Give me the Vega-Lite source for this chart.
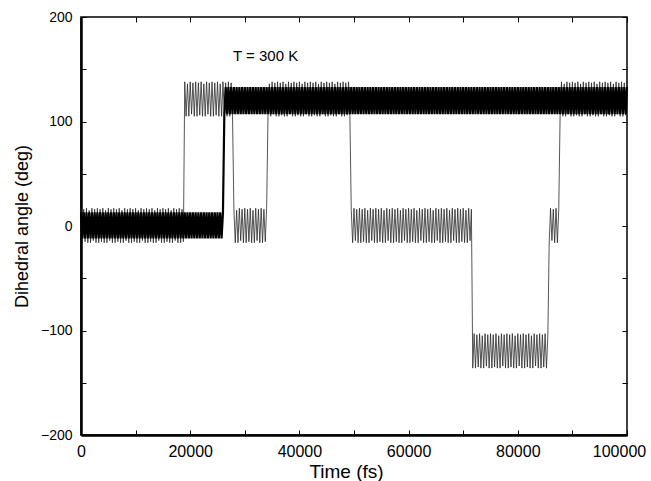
{
"$schema": "https://vega.github.io/schema/vega-lite/v6.json",
"width": 546,
"height": 418,
"autosize": {"type": "none"},
"padding": {"left": 81, "top": 17, "right": 24, "bottom": 46},
"background": "white",
"config": {
  "font": "Liberation Sans",
  "view": {"stroke": "black", "strokeWidth": 1.5},
  "axis": {"labelFont": "Liberation Sans", "titleFont": "Liberation Sans", "labelColor": "black", "titleColor": "black", "tickColor": "black", "domainColor": "black", "grid": false, "titleFontWeight": "normal"}
},
"data": {"values": [
{"t":0,"a":13,"b":17},{"t":250,"a":-12,"b":-16},{"t":500,"a":13,"b":16},{"t":750,"a":-12,"b":-15},{"t":1000,"a":13,"b":17},{"t":1250,"a":-12,"b":-16},{"t":1500,"a":13,"b":15},{"t":1750,"a":-12,"b":-16},{"t":2000,"a":13,"b":17},{"t":2250,"a":-12,"b":-14},{"t":2500,"a":13,"b":16},{"t":2750,"a":-12,"b":-16},
{"t":3000,"a":13,"b":17},{"t":3250,"a":-12,"b":-16},{"t":3500,"a":13,"b":16},{"t":3750,"a":-12,"b":-15},{"t":4000,"a":13,"b":17},{"t":4250,"a":-12,"b":-16},{"t":4500,"a":13,"b":15},{"t":4750,"a":-12,"b":-16},{"t":5000,"a":13,"b":17},{"t":5250,"a":-12,"b":-14},{"t":5500,"a":13,"b":16},{"t":5750,"a":-12,"b":-16},
{"t":6000,"a":13,"b":17},{"t":6250,"a":-12,"b":-16},{"t":6500,"a":13,"b":16},{"t":6750,"a":-12,"b":-15},{"t":7000,"a":13,"b":17},{"t":7250,"a":-12,"b":-16},{"t":7500,"a":13,"b":15},{"t":7750,"a":-12,"b":-16},{"t":8000,"a":13,"b":17},{"t":8250,"a":-12,"b":-14},{"t":8500,"a":13,"b":16},{"t":8750,"a":-12,"b":-16},
{"t":9000,"a":13,"b":17},{"t":9250,"a":-12,"b":-16},{"t":9500,"a":13,"b":16},{"t":9750,"a":-12,"b":-15},{"t":10000,"a":13,"b":17},{"t":10250,"a":-12,"b":-16},{"t":10500,"a":13,"b":15},{"t":10750,"a":-12,"b":-16},{"t":11000,"a":13,"b":17},{"t":11250,"a":-12,"b":-14},{"t":11500,"a":13,"b":16},{"t":11750,"a":-12,"b":-16},
{"t":12000,"a":13,"b":17},{"t":12250,"a":-12,"b":-16},{"t":12500,"a":13,"b":16},{"t":12750,"a":-12,"b":-15},{"t":13000,"a":13,"b":17},{"t":13250,"a":-12,"b":-16},{"t":13500,"a":13,"b":15},{"t":13750,"a":-12,"b":-16},{"t":14000,"a":13,"b":17},{"t":14250,"a":-12,"b":-14},{"t":14500,"a":13,"b":16},{"t":14750,"a":-12,"b":-16},
{"t":15000,"a":13,"b":17},{"t":15250,"a":-12,"b":-16},{"t":15500,"a":13,"b":16},{"t":15750,"a":-12,"b":-15},{"t":16000,"a":13,"b":17},{"t":16250,"a":-12,"b":-16},{"t":16500,"a":13,"b":15},{"t":16750,"a":-12,"b":-16},{"t":17000,"a":13,"b":17},{"t":17250,"a":-12,"b":-14},{"t":17500,"a":13,"b":16},{"t":17750,"a":-12,"b":-16},
{"t":18000,"a":13,"b":17},{"t":18250,"a":-12,"b":-16},{"t":18500,"a":13,"b":16},{"t":18750,"a":-12,"b":-15},
{"t":19000,"a":13,"b":138},{"t":19250,"a":-12,"b":105},{"t":19500,"a":13,"b":136},{"t":19750,"a":-12,"b":105},{"t":20000,"a":13,"b":138},{"t":20250,"a":-12,"b":107},{"t":20500,"a":13,"b":137},{"t":20750,"a":-12,"b":105},
{"t":21000,"a":13,"b":138},{"t":21250,"a":-12,"b":105},{"t":21500,"a":13,"b":137},{"t":21750,"a":-12,"b":106},{"t":22000,"a":13,"b":138},{"t":22250,"a":-12,"b":105},{"t":22500,"a":13,"b":136},{"t":22750,"a":-12,"b":105},{"t":23000,"a":13,"b":138},{"t":23250,"a":-12,"b":107},{"t":23500,"a":13,"b":137},{"t":23750,"a":-12,"b":105},
{"t":24000,"a":13,"b":138},{"t":24250,"a":-12,"b":105},{"t":24500,"a":13,"b":137},{"t":24750,"a":-12,"b":106},{"t":25000,"a":13,"b":138},{"t":25250,"a":-12,"b":105},{"t":25500,"a":13,"b":136},{"t":25750,"a":-12,"b":105},{"t":26000,"a":13,"b":138},{"t":26250,"a":107,"b":107},{"t":26500,"a":133,"b":137},{"t":26750,"a":107,"b":105},
{"t":27000,"a":133,"b":138},{"t":27250,"a":107,"b":105},{"t":27500,"a":133,"b":137},{"t":27750,"a":107,"b":106},
{"t":28000,"a":133,"b":17},{"t":28250,"a":107,"b":-16},{"t":28500,"a":133,"b":15},{"t":28750,"a":107,"b":-16},{"t":29000,"a":133,"b":17},{"t":29250,"a":107,"b":-14},{"t":29500,"a":133,"b":16},{"t":29750,"a":107,"b":-16},
{"t":30000,"a":133,"b":17},{"t":30250,"a":107,"b":-16},{"t":30500,"a":133,"b":16},{"t":30750,"a":107,"b":-15},{"t":31000,"a":133,"b":17},{"t":31250,"a":107,"b":-16},{"t":31500,"a":133,"b":15},{"t":31750,"a":107,"b":-16},{"t":32000,"a":133,"b":17},{"t":32250,"a":107,"b":-14},{"t":32500,"a":133,"b":16},{"t":32750,"a":107,"b":-16},
{"t":33000,"a":133,"b":17},{"t":33250,"a":107,"b":-16},{"t":33500,"a":133,"b":16},{"t":33750,"a":107,"b":-15},{"t":34000,"a":133,"b":17},
{"t":34250,"a":107,"b":105},{"t":34500,"a":133,"b":136},{"t":34750,"a":107,"b":105},{"t":35000,"a":133,"b":138},{"t":35250,"a":107,"b":107},{"t":35500,"a":133,"b":137},{"t":35750,"a":107,"b":105},
{"t":36000,"a":133,"b":138},{"t":36250,"a":107,"b":105},{"t":36500,"a":133,"b":137},{"t":36750,"a":107,"b":106},{"t":37000,"a":133,"b":138},{"t":37250,"a":107,"b":105},{"t":37500,"a":133,"b":136},{"t":37750,"a":107,"b":105},{"t":38000,"a":133,"b":138},{"t":38250,"a":107,"b":107},{"t":38500,"a":133,"b":137},{"t":38750,"a":107,"b":105},
{"t":39000,"a":133,"b":138},{"t":39250,"a":107,"b":105},{"t":39500,"a":133,"b":137},{"t":39750,"a":107,"b":106},{"t":40000,"a":133,"b":138},{"t":40250,"a":107,"b":105},{"t":40500,"a":133,"b":136},{"t":40750,"a":107,"b":105},{"t":41000,"a":133,"b":138},{"t":41250,"a":107,"b":107},{"t":41500,"a":133,"b":137},{"t":41750,"a":107,"b":105},
{"t":42000,"a":133,"b":138},{"t":42250,"a":107,"b":105},{"t":42500,"a":133,"b":137},{"t":42750,"a":107,"b":106},{"t":43000,"a":133,"b":138},{"t":43250,"a":107,"b":105},{"t":43500,"a":133,"b":136},{"t":43750,"a":107,"b":105},{"t":44000,"a":133,"b":138},{"t":44250,"a":107,"b":107},{"t":44500,"a":133,"b":137},{"t":44750,"a":107,"b":105},
{"t":45000,"a":133,"b":138},{"t":45250,"a":107,"b":105},{"t":45500,"a":133,"b":137},{"t":45750,"a":107,"b":106},{"t":46000,"a":133,"b":138},{"t":46250,"a":107,"b":105},{"t":46500,"a":133,"b":136},{"t":46750,"a":107,"b":105},{"t":47000,"a":133,"b":138},{"t":47250,"a":107,"b":107},{"t":47500,"a":133,"b":137},{"t":47750,"a":107,"b":105},
{"t":48000,"a":133,"b":138},{"t":48250,"a":107,"b":105},{"t":48500,"a":133,"b":137},{"t":48750,"a":107,"b":106},{"t":49000,"a":133,"b":138},{"t":49250,"a":107,"b":105},
{"t":49500,"a":133,"b":15},{"t":49750,"a":107,"b":-16},{"t":50000,"a":133,"b":17},{"t":50250,"a":107,"b":-14},{"t":50500,"a":133,"b":16},{"t":50750,"a":107,"b":-16},
{"t":51000,"a":133,"b":17},{"t":51250,"a":107,"b":-16},{"t":51500,"a":133,"b":16},{"t":51750,"a":107,"b":-15},{"t":52000,"a":133,"b":17},{"t":52250,"a":107,"b":-16},{"t":52500,"a":133,"b":15},{"t":52750,"a":107,"b":-16},{"t":53000,"a":133,"b":17},{"t":53250,"a":107,"b":-14},{"t":53500,"a":133,"b":16},{"t":53750,"a":107,"b":-16},
{"t":54000,"a":133,"b":17},{"t":54250,"a":107,"b":-16},{"t":54500,"a":133,"b":16},{"t":54750,"a":107,"b":-15},{"t":55000,"a":133,"b":17},{"t":55250,"a":107,"b":-16},{"t":55500,"a":133,"b":15},{"t":55750,"a":107,"b":-16},{"t":56000,"a":133,"b":17},{"t":56250,"a":107,"b":-14},{"t":56500,"a":133,"b":16},{"t":56750,"a":107,"b":-16},
{"t":57000,"a":133,"b":17},{"t":57250,"a":107,"b":-16},{"t":57500,"a":133,"b":16},{"t":57750,"a":107,"b":-15},{"t":58000,"a":133,"b":17},{"t":58250,"a":107,"b":-16},{"t":58500,"a":133,"b":15},{"t":58750,"a":107,"b":-16},{"t":59000,"a":133,"b":17},{"t":59250,"a":107,"b":-14},{"t":59500,"a":133,"b":16},{"t":59750,"a":107,"b":-16},
{"t":60000,"a":133,"b":17},{"t":60250,"a":107,"b":-16},{"t":60500,"a":133,"b":16},{"t":60750,"a":107,"b":-15},{"t":61000,"a":133,"b":17},{"t":61250,"a":107,"b":-16},{"t":61500,"a":133,"b":15},{"t":61750,"a":107,"b":-16},{"t":62000,"a":133,"b":17},{"t":62250,"a":107,"b":-14},{"t":62500,"a":133,"b":16},{"t":62750,"a":107,"b":-16},
{"t":63000,"a":133,"b":17},{"t":63250,"a":107,"b":-16},{"t":63500,"a":133,"b":16},{"t":63750,"a":107,"b":-15},{"t":64000,"a":133,"b":17},{"t":64250,"a":107,"b":-16},{"t":64500,"a":133,"b":15},{"t":64750,"a":107,"b":-16},{"t":65000,"a":133,"b":17},{"t":65250,"a":107,"b":-14},{"t":65500,"a":133,"b":16},{"t":65750,"a":107,"b":-16},
{"t":66000,"a":133,"b":17},{"t":66250,"a":107,"b":-16},{"t":66500,"a":133,"b":16},{"t":66750,"a":107,"b":-15},{"t":67000,"a":133,"b":17},{"t":67250,"a":107,"b":-16},{"t":67500,"a":133,"b":15},{"t":67750,"a":107,"b":-16},{"t":68000,"a":133,"b":17},{"t":68250,"a":107,"b":-14},{"t":68500,"a":133,"b":16},{"t":68750,"a":107,"b":-16},
{"t":69000,"a":133,"b":17},{"t":69250,"a":107,"b":-16},{"t":69500,"a":133,"b":16},{"t":69750,"a":107,"b":-15},{"t":70000,"a":133,"b":17},{"t":70250,"a":107,"b":-16},{"t":70500,"a":133,"b":15},{"t":70750,"a":107,"b":-16},{"t":71000,"a":133,"b":17},{"t":71250,"a":107,"b":-14},{"t":71500,"a":133,"b":16},
{"t":71750,"a":107,"b":-136},
{"t":72000,"a":133,"b":-103},{"t":72250,"a":107,"b":-136},{"t":72500,"a":133,"b":-104},{"t":72750,"a":107,"b":-135},{"t":73000,"a":133,"b":-103},{"t":73250,"a":107,"b":-136},{"t":73500,"a":133,"b":-105},{"t":73750,"a":107,"b":-136},{"t":74000,"a":133,"b":-103},{"t":74250,"a":107,"b":-134},{"t":74500,"a":133,"b":-104},{"t":74750,"a":107,"b":-136},
{"t":75000,"a":133,"b":-103},{"t":75250,"a":107,"b":-136},{"t":75500,"a":133,"b":-104},{"t":75750,"a":107,"b":-135},{"t":76000,"a":133,"b":-103},{"t":76250,"a":107,"b":-136},{"t":76500,"a":133,"b":-105},{"t":76750,"a":107,"b":-136},{"t":77000,"a":133,"b":-103},{"t":77250,"a":107,"b":-134},{"t":77500,"a":133,"b":-104},{"t":77750,"a":107,"b":-136},
{"t":78000,"a":133,"b":-103},{"t":78250,"a":107,"b":-136},{"t":78500,"a":133,"b":-104},{"t":78750,"a":107,"b":-135},{"t":79000,"a":133,"b":-103},{"t":79250,"a":107,"b":-136},{"t":79500,"a":133,"b":-105},{"t":79750,"a":107,"b":-136},{"t":80000,"a":133,"b":-103},{"t":80250,"a":107,"b":-134},{"t":80500,"a":133,"b":-104},{"t":80750,"a":107,"b":-136},
{"t":81000,"a":133,"b":-103},{"t":81250,"a":107,"b":-136},{"t":81500,"a":133,"b":-104},{"t":81750,"a":107,"b":-135},{"t":82000,"a":133,"b":-103},{"t":82250,"a":107,"b":-136},{"t":82500,"a":133,"b":-105},{"t":82750,"a":107,"b":-136},{"t":83000,"a":133,"b":-103},{"t":83250,"a":107,"b":-134},{"t":83500,"a":133,"b":-104},{"t":83750,"a":107,"b":-136},
{"t":84000,"a":133,"b":-103},{"t":84250,"a":107,"b":-136},{"t":84500,"a":133,"b":-104},{"t":84750,"a":107,"b":-135},{"t":85000,"a":133,"b":-103},{"t":85250,"a":107,"b":-136},{"t":85500,"a":133,"b":-105},
{"t":85750,"a":107,"b":-16},{"t":86000,"a":133,"b":17},{"t":86250,"a":107,"b":-14},{"t":86500,"a":133,"b":16},{"t":86750,"a":107,"b":-16},{"t":87000,"a":133,"b":17},{"t":87250,"a":107,"b":-16},{"t":87500,"a":133,"b":16},
{"t":87750,"a":107,"b":106},{"t":88000,"a":133,"b":138},{"t":88250,"a":107,"b":105},{"t":88500,"a":133,"b":136},{"t":88750,"a":107,"b":105},{"t":89000,"a":133,"b":138},{"t":89250,"a":107,"b":107},{"t":89500,"a":133,"b":137},{"t":89750,"a":107,"b":105},
{"t":90000,"a":133,"b":138},{"t":90250,"a":107,"b":105},{"t":90500,"a":133,"b":137},{"t":90750,"a":107,"b":106},{"t":91000,"a":133,"b":138},{"t":91250,"a":107,"b":105},{"t":91500,"a":133,"b":136},{"t":91750,"a":107,"b":105},{"t":92000,"a":133,"b":138},{"t":92250,"a":107,"b":107},{"t":92500,"a":133,"b":137},{"t":92750,"a":107,"b":105},
{"t":93000,"a":133,"b":138},{"t":93250,"a":107,"b":105},{"t":93500,"a":133,"b":137},{"t":93750,"a":107,"b":106},{"t":94000,"a":133,"b":138},{"t":94250,"a":107,"b":105},{"t":94500,"a":133,"b":136},{"t":94750,"a":107,"b":105},{"t":95000,"a":133,"b":138},{"t":95250,"a":107,"b":107},{"t":95500,"a":133,"b":137},{"t":95750,"a":107,"b":105},
{"t":96000,"a":133,"b":138},{"t":96250,"a":107,"b":105},{"t":96500,"a":133,"b":137},{"t":96750,"a":107,"b":106},{"t":97000,"a":133,"b":138},{"t":97250,"a":107,"b":105},{"t":97500,"a":133,"b":136},{"t":97750,"a":107,"b":105},{"t":98000,"a":133,"b":138},{"t":98250,"a":107,"b":107},{"t":98500,"a":133,"b":137},{"t":98750,"a":107,"b":105},
{"t":99000,"a":133,"b":138},{"t":99250,"a":107,"b":105},{"t":99500,"a":133,"b":137},{"t":99750,"a":107,"b":106},{"t":100000,"a":133,"b":138}
]},
"layer": [
  {
    "mark": {"type": "line", "color": "#2a2a2a", "strokeWidth": 0.8},
    "encoding": {
      "x": {"field": "t", "type": "quantitative", "scale": {"domain": [0, 100000], "nice": false, "zero": false},
        "axis": {"orient": "bottom", "values": [0,10000,20000,30000,40000,50000,60000,70000,80000,90000,100000], "format": "d",
          "labelExpr": "datum.value % 20000 === 0 ? datum.label : ''", "labelFlush": false, "labelOverlap": false, "labelBound": false,
          "labelOffset": {"condition": {"test": "datum.value === 100000", "value": -8}, "value": 0},
          "tickSize": -5, "tickWidth": 1, "domainWidth": 2.5, "labelFontSize": 16, "labelPadding": 26, "labelBaseline": "alphabetic",
          "title": "Time (fs)", "titleFontSize": 19, "titleX": 265, "titleY": 42, "titleBaseline": "alphabetic", "titleAlign": "center"}},
      "y": {"field": "b", "type": "quantitative", "scale": {"domain": [-200, 200], "nice": false, "zero": false},
        "axis": {"orient": "left", "values": [-200,-150,-100,-50,0,50,100,150,200], "format": "d",
          "labelExpr": "datum.value % 100 === 0 ? datum.label : ''", "labelFlush": false, "labelOverlap": false, "labelBound": false,
          "tickSize": -5, "tickWidth": 1, "domainWidth": 2.5, "labelFontSize": 14, "labelPadding": 14, "labelBaseline": "middle",
          "title": "Dihedral angle (deg)", "titleFontSize": 18, "titleX": -59, "titleY": 209, "titleAngle": -90, "titleBaseline": "middle", "titleAlign": "center"}}
    }
  },
  {
    "mark": {"type": "line", "color": "black", "strokeWidth": 2.2},
    "encoding": {
      "x": {"field": "t", "type": "quantitative",
        "axis": {"orient": "top", "values": [0,10000,20000,30000,40000,50000,60000,70000,80000,90000,100000], "labels": false, "domain": false, "tickSize": -5, "tickWidth": 1, "title": null}},
      "y": {"field": "a", "type": "quantitative",
        "axis": {"orient": "right", "values": [-200,-150,-100,-50,0,50,100,150,200], "labels": false, "domain": false, "tickSize": -5, "tickWidth": 1, "title": null}}
    }
  },
  {
    "data": {"values": [{"t": 27840, "y": 158, "label": "T = 300 K"}]},
    "mark": {"type": "text", "align": "left", "baseline": "alphabetic", "fontSize": 15, "font": "Liberation Sans", "color": "black"},
    "encoding": {
      "x": {"field": "t", "type": "quantitative", "axis": null},
      "y": {"field": "y", "type": "quantitative", "axis": null},
      "text": {"field": "label"}
    }
  }
],
"resolve": {"axis": {"x": "independent", "y": "independent"}}
}
